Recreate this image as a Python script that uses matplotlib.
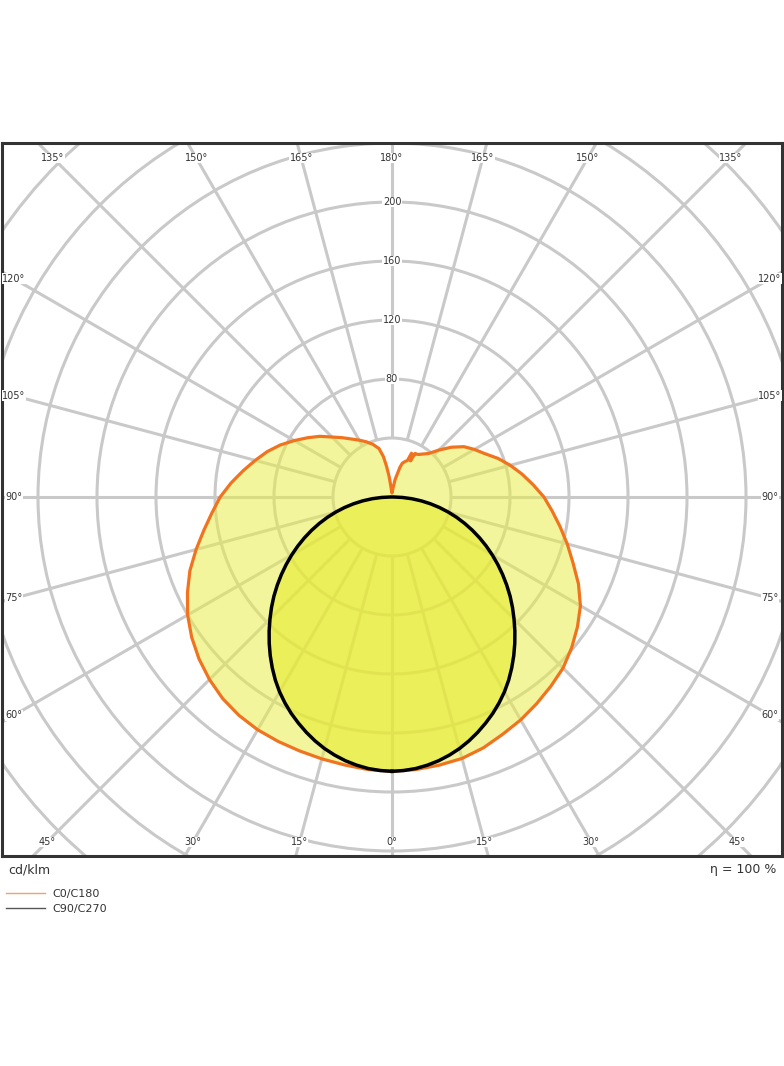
import numpy as np
import matplotlib.pyplot as plt
from matplotlib.patches import Circle, Polygon
from matplotlib.lines import Line2D

# C0 (right half) / C180 (left half), cd/klm against gamma (0 = straight down)
c0_angles = [0, 5, 10, 15, 20, 25, 30, 35, 40, 45, 50, 55, 60, 65, 70, 75, 80, 85, 90,
             95, 100, 105, 110, 115, 120, 125, 130, 135, 140, 145, 148, 150, 152, 153,
             154, 156, 157, 160, 163, 165, 170, 175, 180]
c0_values = [186, 185.5, 184.6, 183.5, 181, 177.5, 174.5, 171, 167.5, 164, 159, 153.5,
             147.5, 139.5, 130.6, 123, 115.7, 109, 103, 96, 89.5, 83, 76.5, 69.5, 64.5,
             59.5, 52.5, 45, 38.5, 35.5, 34, 33.5, 33.5, 27.5, 31.5, 32.5, 27, 25.5, 24,
             21, 12, 5, 2.7]

c180_angles = [0, 5, 10, 15, 20, 25, 30, 35, 40, 45, 50, 55, 60, 65, 70, 75, 80, 85, 90,
               95, 100, 105, 110, 115, 120, 125, 130, 135, 140, 145, 150, 155, 160, 165,
               168, 170, 172, 174, 176, 180]
c180_values = [186, 185.5, 184.5, 183.8, 183.2, 182.8, 182.2, 180.8, 178.5, 175, 170.8,
               165.8, 160, 153, 145.8, 137.5, 129.5, 122.5, 116.5, 109.5, 102.5, 96, 90,
               83.5, 76.5, 70, 64, 57.5, 52.5, 48, 44.5, 41.3, 38, 34, 28, 21, 14, 7, 4,
               2.7]

# C90 (right) / C270 (left)
c90_angles = [0, 2.5, 5, 7.5, 10, 12.5, 15, 17.5, 20, 22.5, 25, 27.5, 30, 32.5, 35, 37.5,
              40, 42.5, 45, 47.5, 50, 52.5, 55, 57.5, 60, 62.5, 65, 67.5, 70, 72.5, 75,
              77.5, 80, 82.5, 85, 87.5, 90]
c90_values = [186, 185.6, 184.8, 183.4, 181.6, 179.3, 176.6, 173.4, 169.8, 165.9, 161.8,
              157.3, 152.5, 147.2, 141.5, 135.6, 129.5, 123.3, 117, 110.8, 104.5, 98,
              91.5, 85, 78.5, 72, 65.5, 59, 52.5, 46, 39.5, 33, 26.5, 20, 13.5, 7, 1]
c270_values = c90_values

ring_values = [40, 80, 120, 160, 200, 240, 280, 320, 360, 400]
ring_labels = [80, 120, 160, 200]
spoke_angles = list(range(0, 360, 15))

W, H = 784, 1066
scale = 1.475  # px per cd


def half(angles, values, side):
    g = np.radians(angles)
    r = np.array(values)
    return side * r * np.sin(g), -r * np.cos(g)


def outline(right_a, right_v, left_a, left_v):
    xr, yr = half(right_a, right_v, 1)
    xl, yl = half(left_a, left_v, -1)
    return np.concatenate([xr, xl[::-1]]), np.concatenate([yr, yl[::-1]])


fig = plt.figure(figsize=(W / 100, H / 100), dpi=100)
ax = fig.add_axes([2 / W, 1 - 856 / H, 780 / W, 713 / H])
ax.set_xlim(-390 / scale, 390 / scale)
ax.set_ylim(-359 / scale, 354 / scale)
ax.set_aspect('equal')
ax.set_xticks([])
ax.set_yticks([])
for sp in ax.spines.values():
    sp.set_linewidth(2.2)
    sp.set_color('#333333')

grid_col = '#c9c9c9'
for r in ring_values:
    ax.add_patch(Circle((0, 0), r, fill=False, lw=2.2, ec=grid_col, zorder=1))
for a in spoke_angles:
    t = np.radians(a)
    ax.plot([40 * np.sin(t), 700 * np.sin(t)], [-40 * np.cos(t), -700 * np.cos(t)],
            color=grid_col, lw=2.2, zorder=1, solid_capstyle='butt')

# fills
ox, oy = outline(c0_angles, c0_values, c180_angles, c180_values)
bx, by = outline(c90_angles, c90_values, c90_angles, c270_values)
ax.add_patch(Polygon(np.column_stack([ox, oy]), closed=True, fc=(233/255, 237/255, 75/255),
                     alpha=0.55, ec='none', zorder=2))
ax.add_patch(Polygon(np.column_stack([bx, by]), closed=True, fc=(230/255, 235/255, 46/255),
                     alpha=0.6, ec='none', zorder=2))
ax.plot(np.append(ox, ox[0]), np.append(oy, oy[0]), color='#f07420', lw=2.3, zorder=3,
        solid_joinstyle='round')
ax.plot(np.append(bx, bx[0]), np.append(by, by[0]), color='black', lw=2.5, zorder=4,
        solid_joinstyle='round')

# ring labels
for v in ring_labels:
    ax.text(0, v, str(v), ha='center', va='center', fontsize=7, color='#333333', zorder=5,
            bbox=dict(facecolor='white', edgecolor='none', pad=0.3))

# angle labels where the spokes meet the frame (inset)
xin = 378 / scale
ybot = -345 / scale
ytop = 339 / scale
for side in (1, -1):
    for g in range(0, 181, 15):
        if side == -1 and g in (0, 180):
            continue
        t = np.radians(g)
        dx, dy = side * np.sin(t), -np.cos(t)
        cands = []
        if abs(dx) > 1e-9:
            cands.append(xin / abs(dx))
        if dy < -1e-9:
            cands.append(ybot / dy)
        if dy > 1e-9:
            cands.append(ytop / dy)
        k = min(cands)
        ax.text(k * dx, k * dy, f'{g}°', ha='center', va='center', fontsize=7,
                color='#333333', zorder=5,
                bbox=dict(facecolor='white', edgecolor='none', pad=0.2))

fig.text(8 / W, 1 - 870 / H, 'cd/klm', ha='left', va='center', fontsize=9, color='#333333')
fig.text(776 / W, 1 - 870 / H, 'η = 100 %', ha='right', va='center', fontsize=9,
         color='#333333')

handles = [Line2D([], [], color='#f0a070', lw=1), Line2D([], [], color='#555555', lw=1)]
fig.legend(handles, ['C0/C180', 'C90/C270'], loc='upper left',
           bbox_to_anchor=(6 / W, 1 - 889 / H), frameon=False, fontsize=8,
           handlelength=3.5, handletextpad=0.7, labelspacing=0.45, borderpad=0,
           borderaxespad=0, labelcolor='#333333')

fig.savefig('out.png', dpi=100)
